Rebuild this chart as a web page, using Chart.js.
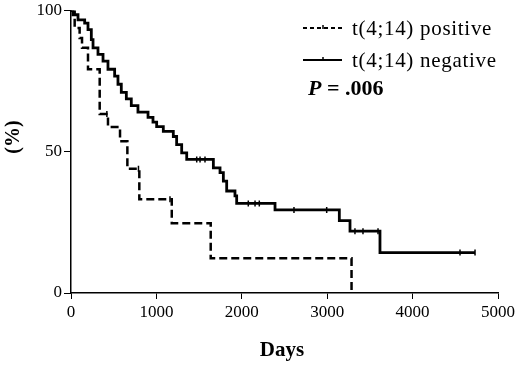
<!DOCTYPE html>
<html>
<head>
<meta charset="utf-8">
<script src="https://cdn.jsdelivr.net/npm/chart.js@4"></script>
<style>
  html, body { margin: 0; padding: 0; background: #fff; }
  #wrap { width: 520px; height: 365px; }
</style>
</head>
<body>
<div id="wrap"><canvas id="km"></canvas></div>
<script>
// Kaplan-Meier curves: day of each drop and % left after it
const seriesNames = ['t(4;14) positive', 't(4;14) negative'];

const posDays = [0, 43, 101, 129, 199, 336, 433, 574, 660, 800, 1180, 1636, 3285];
const posSurv = [100, 93.8, 90.3, 86.8, 79.2, 63.4, 58.8, 53.7, 44, 33.2, 24.7, 12.3, 0];

const negDays = [0, 23, 82, 160, 199, 238, 258, 316, 375, 433, 511, 550, 589, 648, 706, 784, 902,
  960, 1003, 1081, 1198, 1237, 1296, 1355, 1667, 1745, 1784, 1823, 1920, 1940, 2389, 3142,
  3267, 3618, 4731];
const negSurv = [100, 98.5, 96.7, 95.5, 93.2, 89.7, 86.8, 84.5, 82.1, 79.2, 76.8, 73.9, 71, 68.7,
  66.3, 64, 62.2, 60.5, 58.9, 57.2, 55.4, 52.5, 49.6, 47.3, 44.3, 42.6, 39.6, 36.1, 34.4, 31.7,
  29.4, 25.6, 21.9, 14.3, 14.3];

// censored patients (small tick marks on the curves)
const posCensorDays = [420, 790, 1159];
const posCensorSurv = [63.4, 44, 33.2];
const negCensorDays = [1472, 1511, 1569, 2076, 2155, 2205, 2611, 2994, 3325, 3419, 3595, 4555, 4731];
const negCensorSurv = [47.3, 47.3, 47.3, 31.7, 31.7, 31.7, 29.4, 29.4, 21.9, 21.9, 21.9, 14.3, 14.3];

const xTitle = 'Days';
const yTitle = '(%)';
const pValueText = '.006';

const serif = '"Liberation Serif", "Times New Roman", serif';

function toPoints(xs, ys) {
  return xs.map((x, i) => ({ x: x, y: ys[i] }));
}

// legend, p value and axis titles drawn at fixed spots like the original figure
const annotations = {
  id: 'annotations',
  afterDraw(chart) {
    const ctx = chart.ctx;
    const rows = [28, 60];
    const dashes = [[4, 3], []];
    ctx.save();
    ctx.strokeStyle = '#000';
    ctx.fillStyle = '#000';
    rows.forEach((y, i) => {
      ctx.lineWidth = 2;
      ctx.setLineDash(dashes[i]);
      ctx.beginPath();
      ctx.moveTo(303, y);
      ctx.lineTo(342, y);
      ctx.stroke();
      ctx.setLineDash([]);
      ctx.lineWidth = 1.5;
      ctx.beginPath();
      ctx.moveTo(323, y - 3);
      ctx.lineTo(323, y + 1);
      ctx.stroke();
      ctx.font = '21px ' + serif;
      ctx.letterSpacing = '0.7px';
      ctx.textBaseline = 'middle';
      ctx.textAlign = 'left';
      ctx.fillText(seriesNames[i], 352, y + 1);
    });

    ctx.letterSpacing = '0px';
    ctx.font = 'italic bold 22px ' + serif;
    ctx.fillText('P', 308, 89);
    const pw = ctx.measureText('P').width;
    ctx.font = 'bold 22px ' + serif;
    ctx.fillText(' = ' + pValueText, 308 + pw, 89);

    ctx.font = 'bold 21px ' + serif;
    ctx.textAlign = 'center';
    ctx.fillText(xTitle, 282, 351);

    ctx.translate(14, 137);
    ctx.rotate(-Math.PI / 2);
    ctx.font = 'bold 20px ' + serif;
    ctx.fillText(yTitle, 0, 0);
    ctx.restore();
  }
};

const censorStyle = {
  type: 'scatter',
  showLine: false,
  pointStyle: 'line',
  rotation: 90,
  pointRadius: 3,
  pointBorderWidth: 1.5,
  pointBorderColor: '#000',
  borderColor: '#000'
};

new Chart(document.getElementById('km'), {
  type: 'line',
  data: {
    datasets: [
      {
        label: seriesNames[0],
        data: toPoints(posDays, posSurv),
        stepped: 'before',
        borderColor: '#000',
        borderWidth: 2.5,
        borderDash: [8, 4],
        pointRadius: 0,
        fill: false
      },
      {
        label: seriesNames[1],
        data: toPoints(negDays, negSurv),
        stepped: 'before',
        borderColor: '#000',
        borderWidth: 2.8,
        pointRadius: 0,
        fill: false
      },
      Object.assign({ label: 'censored +', data: toPoints(posCensorDays, posCensorSurv) }, censorStyle),
      Object.assign({ label: 'censored -', data: toPoints(negCensorDays, negCensorSurv) }, censorStyle)
    ]
  },
  options: {
    responsive: true,
    maintainAspectRatio: false,
    animation: false,
    layout: { padding: { top: 8, right: 22, left: 0, bottom: 0 } },
    plugins: {
      legend: { display: false },
      tooltip: { enabled: false }
    },
    scales: {
      x: {
        type: 'linear',
        min: 0,
        max: 5000,
        ticks: {
          stepSize: 1000,
          maxRotation: 0,
          color: '#000',
          padding: 5,
          font: { family: serif, size: 17, lineHeight: 1 },
          callback: (v) => String(v)
        },
        grid: { drawOnChartArea: false, drawTicks: true, tickLength: 6, color: '#000', lineWidth: 1 },
        border: { color: '#000', width: 1.5 },
        afterFit(scale) { scale.height = 72; }
      },
      y: {
        type: 'linear',
        min: 0,
        max: 100,
        ticks: {
          stepSize: 50,
          color: '#000',
          padding: 2,
          font: { family: serif, size: 17, lineHeight: 1 },
          callback: (v) => String(v)
        },
        grid: { drawOnChartArea: false, drawTicks: true, tickLength: 7, color: '#000', lineWidth: 1 },
        border: { color: '#000', width: 1.5 },
        afterFit(scale) { scale.width = 71; }
      }
    }
  },
  plugins: [annotations]
});
</script>
</body>
</html>
